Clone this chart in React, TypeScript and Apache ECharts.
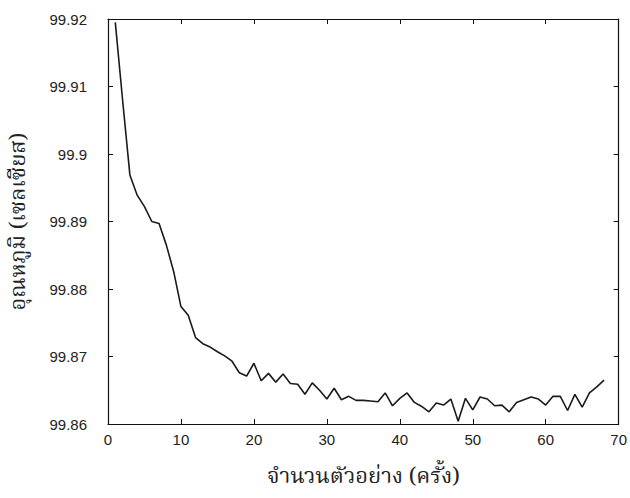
import React, { useEffect, useRef } from "react";
import * as echarts from "echarts";

const sampleIndex: number[] = Array.from({ length: 68 }, (_, k) => k + 1);
const temperature: number[] = [
  99.9195, 99.908, 99.8969, 99.8939, 99.8922, 99.89, 99.8897, 99.8865, 99.8826, 99.8774,
  99.8761, 99.8728, 99.8719, 99.8714, 99.8707, 99.8701, 99.8693, 99.8676, 99.8671, 99.869,
  99.8664, 99.8675, 99.8662, 99.8674, 99.866, 99.8659, 99.8644, 99.8661, 99.865, 99.8637,
  99.8653, 99.8636, 99.8641, 99.8635, 99.8635, 99.8634, 99.8633, 99.8646, 99.8627, 99.8638,
  99.8646, 99.8632, 99.8626, 99.8618, 99.8631, 99.8628, 99.8637, 99.8604, 99.8638, 99.8621,
  99.864, 99.8637, 99.8627, 99.8628, 99.8618, 99.8632, 99.8636, 99.864, 99.8637, 99.8628,
  99.8641, 99.8641, 99.862, 99.8644, 99.8625, 99.8646, 99.8655, 99.8665,
];
const xLabel = "จำนวนตัวอย่าง (ครั้ง)";
const yLabel = "อุณหภูมิ (เซลเซียส)";

const LABEL_FONT = "'Liberation Sans', Arial, sans-serif";
const THAI_FONT = "'Noto Serif Thai', 'Noto Sans Thai', 'Noto Sans', serif";

export default function App() {
  const ref = useRef<HTMLDivElement>(null);
  useEffect(() => {
    if (!ref.current) return;
    const chart = echarts.init(ref.current, undefined, { renderer: "svg" });
    const axisLine = { show: true, onZero: false, lineStyle: { color: "#111", width: 1.2 } };
    const tick = { show: true, inside: true, length: 5, lineStyle: { color: "#111" } };
    const fmt = (v: number) => String(parseFloat(v.toFixed(2)));
    chart.setOption({
      animation: false,
      backgroundColor: "#ffffff",
      grid: { left: 103, right: 8, top: 19, bottom: 74, containLabel: false },
      xAxis: [
        {
          type: "value",
          min: 0,
          max: 70,
          interval: 10,
          position: "bottom",
          name: xLabel,
          nameLocation: "middle",
          nameGap: 42,
          nameTextStyle: { fontFamily: THAI_FONT, fontSize: 22, fontWeight: "normal", color: "#222" },
          axisLine,
          axisTick: tick,
          axisLabel: { fontFamily: LABEL_FONT, fontSize: 15, color: "#222", margin: 8 },
          splitLine: { show: false },
        },
        {
          type: "value",
          min: 0,
          max: 70,
          interval: 10,
          position: "top",
          axisLine,
          axisTick: tick,
          axisLabel: { show: false },
          splitLine: { show: false },
        },
      ],
      yAxis: [
        {
          type: "value",
          min: 99.86,
          max: 99.92,
          interval: 0.01,
          position: "left",
          name: yLabel,
          nameLocation: "middle",
          nameGap: 78,
          nameRotate: 90,
          nameTextStyle: { fontFamily: THAI_FONT, fontSize: 22, fontWeight: "normal", color: "#222" },
          axisLine,
          axisTick: tick,
          axisLabel: { fontFamily: LABEL_FONT, fontSize: 15, color: "#222", margin: 21, formatter: fmt },
          splitLine: { show: false },
        },
        {
          type: "value",
          min: 99.86,
          max: 99.92,
          interval: 0.01,
          position: "right",
          axisLine,
          axisTick: tick,
          axisLabel: { show: false },
          splitLine: { show: false },
        },
      ],
      series: [
        {
          type: "line",
          xAxisIndex: 0,
          yAxisIndex: 0,
          data: sampleIndex.map((x, i) => [x, temperature[i]]),
          showSymbol: false,
          lineStyle: { color: "#1a1a1a", width: 1.6 },
          clip: true,
        },
      ],
    });
    return () => chart.dispose();
  }, []);
  return (
    <div
      ref={ref}
      style={{ position: "absolute", left: 0, top: 0, width: 630, height: 498 }}
    />
  );
}
